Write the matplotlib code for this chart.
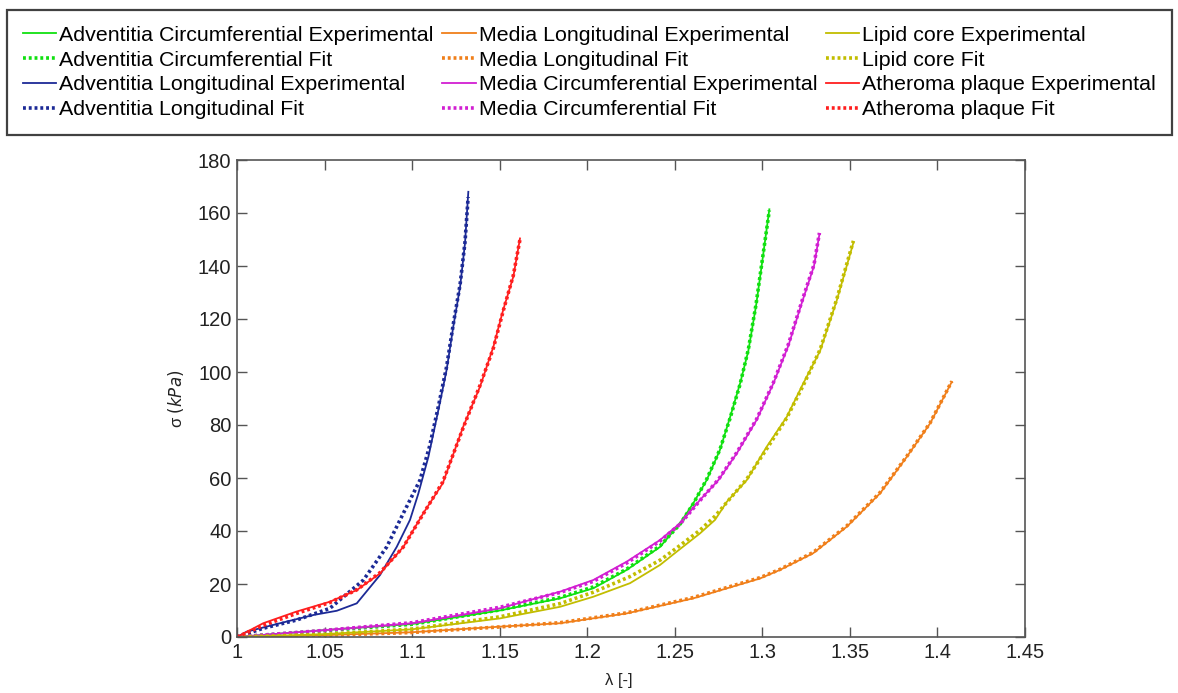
import matplotlib
matplotlib.use("Agg")
import matplotlib.pyplot as plt

plt.rcParams['font.family'] = ['Liberation Sans', 'DejaVu Sans']

# Adventitia circumferential
lam_adv_circ = [1.0, 1.05, 1.10, 1.15, 1.1845, 1.2035, 1.2225, 1.2416, 1.253, 1.2606,
                1.2682, 1.2758, 1.2816, 1.2873, 1.292, 1.2964, 1.2996, 1.304]
sig_adv_circ_exp = [0, 2.6, 4.9, 10.0, 14.6, 18.4, 25.3, 34.0, 42.9, 50.5,
                    59.2, 70.6, 83.0, 95.7, 108.0, 125.0, 140.0, 161.4]
sig_adv_circ_fit = [0, 2.4, 4.8, 10.2, 14.9, 18.9, 25.6, 34.4, 42.6, 50.3,
                    59.5, 70.8, 82.6, 95.4, 108.5, 125.5, 140.5, 161.0]

# Adventitia longitudinal
lam_adv_long_exp = [1.0, 1.0055, 1.0246, 1.0436, 1.057, 1.0684, 1.0817, 1.0912, 1.0988,
                    1.1035, 1.1093, 1.115, 1.1197, 1.1235, 1.1274, 1.1302, 1.1321]
sig_adv_long_exp = [0, 2.0, 5.2, 8.3, 9.9, 12.7, 23.4, 34.0, 44.2,
                    54.0, 68.0, 85.7, 100.8, 117.1, 132.2, 148.6, 168.0]
lam_adv_long_fit = [1.0, 1.015, 1.034, 1.053, 1.0722, 1.0855, 1.095, 1.1045, 1.11,
                    1.115, 1.1197, 1.1235, 1.1274, 1.1302, 1.132]
sig_adv_long_fit = [0, 3.3, 6.4, 10.8, 21.5, 34.0, 46.7, 59.2, 72.0,
                    87.0, 102.0, 118.0, 133.0, 149.0, 166.0]

# Media longitudinal
lam_med_long = [1.0, 1.05, 1.10, 1.15, 1.1845, 1.2225, 1.2606, 1.2987, 1.31, 1.329,
                1.3482, 1.3672, 1.3825, 1.3958, 1.4082]
sig_med_long_exp = [0, 0.7, 1.8, 3.9, 5.2, 8.9, 14.6, 22.1, 25.3, 31.6,
                    41.6, 54.2, 68.0, 80.6, 96.3]
sig_med_long_fit = [0, 0.6, 1.7, 3.8, 5.4, 9.1, 14.9, 22.4, 25.5, 31.9,
                    41.9, 54.5, 68.2, 80.8, 96.5]

# Media circumferential
lam_med_circ = [1.0, 1.05, 1.10, 1.15, 1.1845, 1.2035, 1.2225, 1.2416, 1.253, 1.2644,
                1.2749, 1.2854, 1.2968, 1.3063, 1.3149, 1.3225, 1.3295, 1.3326]
sig_med_circ_exp = [0, 2.6, 5.2, 10.8, 17.1, 21.5, 28.4, 36.6, 42.9, 51.7,
                    59.2, 69.3, 82.0, 95.7, 110.0, 126.0, 140.0, 152.0]
sig_med_circ_fit = [0, 2.5, 5.4, 11.2, 16.8, 21.0, 27.9, 36.2, 42.6, 51.5,
                    59.4, 69.6, 82.3, 96.0, 110.5, 126.5, 140.5, 152.5]

# Lipid core
lam_lipid = [1.0, 1.05, 1.10, 1.15, 1.1845, 1.2035, 1.2244, 1.2416, 1.2511, 1.2644,
             1.273, 1.2797, 1.2911, 1.3025, 1.3139, 1.3234, 1.333, 1.3425, 1.352]
sig_lipid_exp = [0, 1.1, 2.9, 7.0, 11.4, 15.2, 20.3, 27.2, 32.2, 39.1,
                 44.2, 51.0, 59.2, 71.8, 83.0, 95.7, 108.0, 127.0, 148.8]
sig_lipid_fit = [0, 1.0, 3.0, 7.6, 12.6, 16.9, 22.8, 29.0, 33.6, 40.3,
                 45.6, 50.8, 59.6, 71.0, 82.6, 95.0, 108.5, 127.5, 149.5]

# Atheroma plaque
lam_ath = [1.0, 1.015, 1.034, 1.053, 1.0684, 1.0817, 1.095, 1.1064, 1.1175, 1.1292,
           1.1388, 1.1464, 1.152, 1.1578, 1.1616]
sig_ath_exp = [0, 5.2, 9.6, 13.3, 17.7, 24.0, 34.0, 46.7, 58.0, 79.4,
               94.5, 109.5, 123.4, 136.0, 150.4]
sig_ath_fit = [0, 4.4, 8.9, 13.0, 17.8, 24.3, 34.0, 46.5, 58.5, 79.0,
               95.0, 109.0, 123.0, 136.5, 150.0]

c_green = '#10e010'
c_blue = '#1c2a96'
c_orange = '#f07f1a'
c_magenta = '#d21fd2'
c_yellow = '#c2bd00'
c_red = '#ff1f1f'

fig = plt.figure(figsize=(11.78, 6.93), dpi=100)
ax = fig.add_axes([237/1178, 1 - 637/693, (1025 - 237)/1178, (637 - 160)/693])

dot = (0, (0.8, 0.8))
lw_exp = 1.3
lw_fit = 2.6

ax.plot(lam_adv_circ, sig_adv_circ_exp, color=c_green, lw=lw_exp, label='Adventitia Circumferential Experimental')
ax.plot(lam_adv_circ, sig_adv_circ_fit, color=c_green, lw=lw_fit, ls=dot, label='Adventitia Circumferential Fit')
ax.plot(lam_adv_long_exp, sig_adv_long_exp, color=c_blue, lw=lw_exp, label='Adventitia Longitudinal Experimental')
ax.plot(lam_adv_long_fit, sig_adv_long_fit, color=c_blue, lw=lw_fit, ls=dot, label='Adventitia Longitudinal Fit')
ax.plot(lam_med_long, sig_med_long_exp, color=c_orange, lw=lw_exp, label='Media Longitudinal Experimental')
ax.plot(lam_med_long, sig_med_long_fit, color=c_orange, lw=lw_fit, ls=dot, label='Media Longitudinal Fit')
ax.plot(lam_med_circ, sig_med_circ_exp, color=c_magenta, lw=lw_exp, label='Media Circumferential Experimental')
ax.plot(lam_med_circ, sig_med_circ_fit, color=c_magenta, lw=lw_fit, ls=dot, label='Media Circumferential Fit')
ax.plot(lam_lipid, sig_lipid_exp, color=c_yellow, lw=lw_exp, label='Lipid core Experimental')
ax.plot(lam_lipid, sig_lipid_fit, color=c_yellow, lw=lw_fit, ls=dot, label='Lipid core Fit')
ax.plot(lam_ath, sig_ath_exp, color=c_red, lw=lw_exp, label='Atheroma plaque Experimental')
ax.plot(lam_ath, sig_ath_fit, color=c_red, lw=lw_fit, ls=dot, label='Atheroma plaque Fit')

ax.set_xlim(1, 1.45)
ax.set_ylim(0, 180)
ax.set_xticks([1, 1.05, 1.1, 1.15, 1.2, 1.25, 1.3, 1.35, 1.4, 1.45])
ax.set_xticklabels(['1', '1.05', '1.1', '1.15', '1.2', '1.25', '1.3', '1.35', '1.4', '1.45'])
ax.set_yticks(range(0, 181, 20))

for s in ax.spines.values():
    s.set_color('#555555')
    s.set_linewidth(1.2)
ax.tick_params(direction='in', length=7, width=1, color='#555555', labelsize=14.5,
               labelcolor='#222222', top=True, right=True, pad=4)

ax.set_xlabel(r'λ [-]', fontsize=12, color='#222222')
ax.xaxis.set_label_coords(0.485, -0.075)
ax.set_ylabel(r'σ $\mathit{(kPa)}$', fontsize=12, color='#222222')
ax.yaxis.set_label_coords(-0.065, 0.5)

leg = fig.legend(loc='center', bbox_to_anchor=(7/1178, 1 - 135/693, 1165/1178, 125/693),
                 mode='expand', ncol=3, fontsize=15.4, frameon=True, fancybox=False,
                 handlelength=1.55, handletextpad=0.15, labelspacing=0.27,
                 columnspacing=0.3, borderpad=0.75, borderaxespad=0)
leg.get_frame().set_edgecolor('#111111')
leg.get_frame().set_linewidth(1.6)

fig.savefig('out.png', dpi=100)
